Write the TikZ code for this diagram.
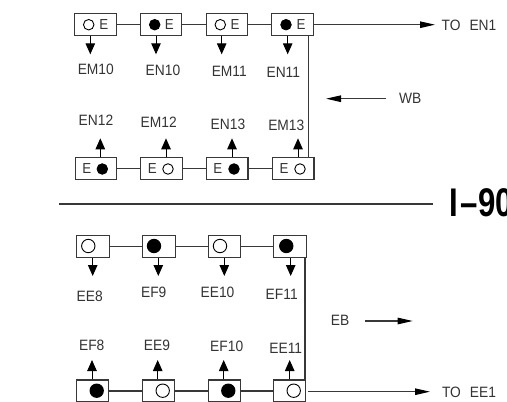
\documentclass[tikz,border=0pt]{standalone}
\usepackage{fontspec}
\setmainfont{Liberation Sans}
\newfontfamily\lblfont[FakeStretch=0.92]{Liberation Sans}
\usetikzlibrary{arrows.meta}
\definecolor{ln}{gray}{0.22}
\tikzset{
  bx/.style={draw=ln,line width=1.1pt,fill=white,inner sep=0pt,minimum width=#1,minimum height=22pt},
  lbl/.style={inner sep=0pt,font=\lblfont\fontsize{15}{16}\selectfont,text=black!80},
  ee/.style={inner sep=0pt,font=\lblfont\fontsize{14.5}{16}\selectfont,text=black!80},
  open/.style={circle,draw=black,line width=0.9pt,fill=white,inner sep=0pt,minimum size=#1},
  full/.style={circle,draw=black,line width=0.9pt,fill=black,inner sep=0pt,minimum size=#1},
  wire/.style={draw=ln,line width=1.1pt},
  vup/.style={draw=black,line width=1pt,-{Stealth[length=11pt,width=9.5pt,inset=0pt]}},
  hup/.style={draw=ln,line width=1.1pt,-{Stealth[length=15pt,width=6.5pt,inset=0pt,color=black]}},
}
\begin{document}
\begin{tikzpicture}[x=1pt,y=-1pt]
\useasboundingbox (0,0) rectangle (507,402);
\clip (0,0) rectangle (507,402);
% upper group: top row
\node[bx=41.5pt] (a1) at (95.4,24.7) {};
\node[bx=41.5pt] (a2) at (161.1,24.7) {};
\node[bx=41.5pt] (a3) at (226.9,24.7) {};
\node[bx=41.5pt] (a4) at (292.5,24.7) {};
% upper group: bottom row
\node[bx=41.5pt] (b1) at (96,168.8) {};
\node[bx=41.5pt] (b2) at (161.5,168.8) {};
\node[bx=41.5pt] (b3) at (227.2,168.8) {};
\node[bx=41.5pt] (b4) at (293.2,168.8) {};
\node[open=10.5pt] (ac1) at (88.7,24.7) {};
\node[full=10.5pt] (ac2) at (154.7,24.7) {};
\node[open=10.5pt] (ac3) at (220.3,24.7) {};
\node[full=10.5pt] (ac4) at (286,24.7) {};
\node[ee] (ae1) at (103.7,24.7) {E};
\node[ee] (ae2) at (169.3,24.7) {E};
\node[ee] (ae3) at (235,24.7) {E};
\node[ee] (ae4) at (301,24.7) {E};
\node[full=10.5pt] (bc1) at (102.3,169) {};
\node[open=10.5pt] (bc2) at (168,169) {};
\node[full=10.5pt] (bc3) at (234,169) {};
\node[open=10.5pt] (bc4) at (300,169) {};
\node[ee] (be1) at (86.7,169) {E};
\node[ee] (be2) at (152.3,169) {E};
\node[ee] (be3) at (217.7,169) {E};
\node[ee] (be4) at (284,169) {E};
\draw[wire] (a1) -- (a2);
\draw[wire] (a2) -- (a3);
\draw[wire] (a3) -- (a4);
\draw[wire] (b1) -- (b2);
\draw[wire] (b2) -- (b3);
\draw[wire] (b3) -- (b4);
\coordinate (av) at (308.3,100);
\draw[wire] (a4.south -| av) -- (b4.north -| av);
% upper labels
\node[lbl] (la1) at (95.8,69.3) {EM10};
\node[lbl] (la2) at (163,70.7) {EN10};
\node[lbl] (la3) at (229.3,71) {EM11};
\node[lbl] (la4) at (283.3,72) {EN11};
\node[lbl] (lb1) at (96,120.7) {EN12};
\node[lbl] (lb2) at (158.7,122.3) {EM12};
\node[lbl] (lb3) at (228,124.7) {EN13};
\node[lbl] (lb4) at (286.3,125.3) {EM13};
\coordinate (ta1) at (90.3,54.3);
\coordinate (ta2) at (156,54.3);
\coordinate (ta3) at (221.7,54.3);
\coordinate (ta4) at (287.7,54.3);
\coordinate (tb1) at (100.3,138.3);
\coordinate (tb2) at (166,138.3);
\coordinate (tb3) at (232,138.3);
\coordinate (tb4) at (298,138.3);
\foreach \i in {1,2,3,4} {
  \draw[vup] (a\i.south -| ta\i) -- (ta\i);
  \draw[vup] (b\i.north -| tb\i) -- (tb\i);
}
% right of upper group
\node[lbl] (toen) at (469,25) {TO\hspace{9pt}EN1};
\coordinate (toent) at (435,24.7);
\draw[hup] (a4.east |- toent) -- (toent);
\node[lbl] (wb) at (410.3,98) {WB};
\coordinate (wbs) at (386,98.7);
\coordinate (wbt) at (326,98.7);
\draw[hup] (wbs) -- (wbt);
% divider and title
\coordinate (dl) at (59.3,204);
\coordinate (dr) at (433,204);
\draw[wire] (dl) -- (dr);
\node[inner sep=0pt,anchor=west] (ttl) at (449,203) {\fontsize{40}{40}\selectfont\bfseries\scalebox{0.78}[1]{I\kern3pt–\kern1pt90}};
% lower group
\node[bx=32.6pt] (c1) at (93,246.5) {};
\node[bx=32.6pt] (c2) at (158.9,246.5) {};
\node[bx=32.6pt] (c3) at (224.5,246.5) {};
\node[bx=32.6pt] (c4) at (290.2,246.5) {};
\node[bx=32.2pt] (d1) at (92.7,391) {};
\node[bx=32.2pt] (d2) at (158.5,391) {};
\node[bx=32.2pt] (d3) at (224.4,391) {};
\node[bx=32.2pt] (d4) at (289.7,391) {};
\node[open=13.4pt] (cc1) at (88.3,246) {};
\node[full=13.4pt] (cc2) at (154,246) {};
\node[open=13.4pt] (cc3) at (220,246) {};
\node[full=13.4pt] (cc4) at (286.3,246) {};
\node[full=13.4pt] (dc1) at (96.7,390.7) {};
\node[open=13.4pt] (dc2) at (162.7,390.7) {};
\node[full=13.4pt] (dc3) at (228.3,390.7) {};
\node[open=13.4pt] (dc4) at (293.7,390.7) {};
\draw[wire] (c1) -- (c2);
\draw[wire] (c2) -- (c3);
\draw[wire] (c3) -- (c4);
\draw[wire] (d1) -- (d2);
\draw[wire] (d2) -- (d3);
\draw[wire] (d3) -- (d4);
\coordinate (cv) at (305,300);
\draw[wire] (c4.south -| cv) -- (d4.north -| cv);
\node[lbl] (lc1) at (89.7,296.7) {EE8};
\node[lbl] (lc2) at (153.7,292.7) {EF9};
\node[lbl] (lc3) at (217.5,292.7) {EE10};
\node[lbl] (lc4) at (281.7,294) {EF11};
\node[lbl] (ld1) at (91.7,345) {EF8};
\node[lbl] (ld2) at (157,345.3) {EE9};
\node[lbl] (ld3) at (226.7,346.3) {EF10};
\node[lbl] (ld4) at (285.8,348.3) {EE11};
\coordinate (tc1) at (92.7,276);
\coordinate (tc2) at (158.3,276);
\coordinate (tc3) at (224.3,276);
\coordinate (tc4) at (290.7,276);
\coordinate (td1) at (92,360);
\coordinate (td2) at (157.7,360);
\coordinate (td3) at (223.7,360);
\coordinate (td4) at (289.7,360);
\foreach \i in {1,2,3,4} {
  \draw[vup] (c\i.south -| tc\i) -- (tc\i);
  \draw[vup] (d\i.north -| td\i) -- (td\i);
}
\node[lbl] (eb) at (340,320.7) {EB};
\coordinate (ebs) at (365,321);
\coordinate (ebt) at (412.7,321);
\draw[hup] (ebs) -- (ebt);
\node[lbl] (toee) at (469,392.3) {TO\hspace{9pt}EE1};
\coordinate (toeet) at (430,391.7);
\draw[hup] (d4.east |- toeet) ++(2,0) -- (toeet);
\end{tikzpicture}
\end{document}
